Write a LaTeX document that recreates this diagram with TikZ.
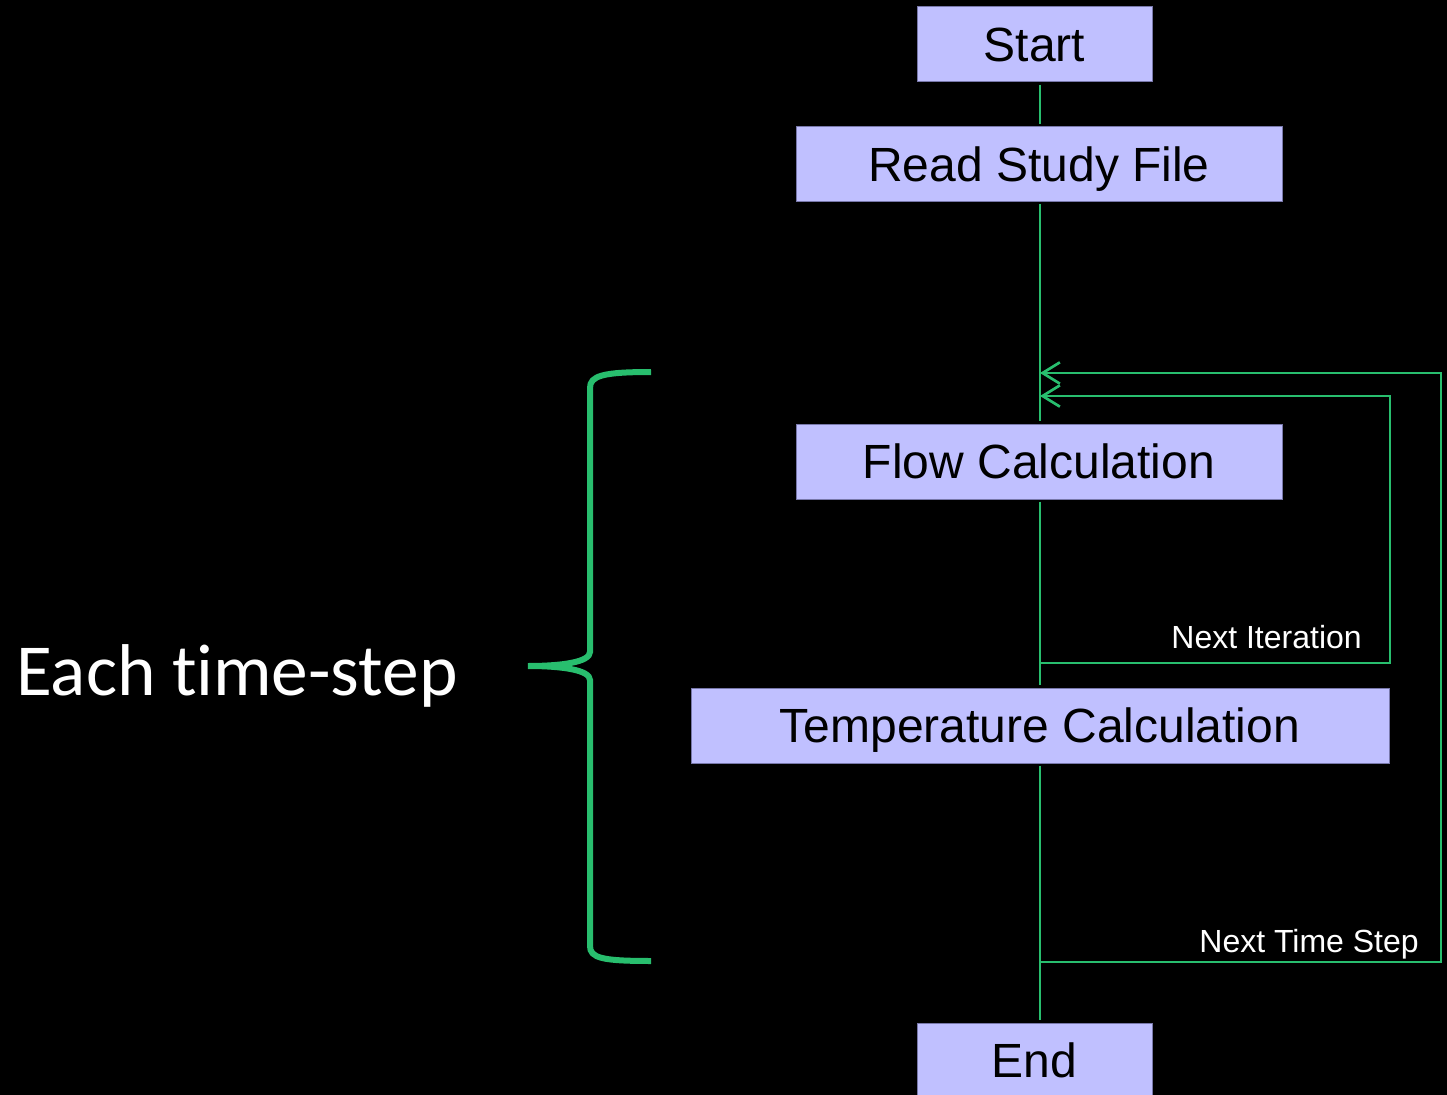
\documentclass[tikz,border=0pt]{standalone}
\usepackage{fontspec}
\setmainfont{Liberation Sans}
\newfontfamily\bracefont[Ligatures=NoCommon]{Carlito}
\usetikzlibrary{arrows.meta}
\definecolor{boxfill}{RGB}{192,192,255}
\definecolor{boxline}{RGB}{120,120,170}
\definecolor{flowgreen}{RGB}{40,190,110}
\tikzstyle{every node}=[inner sep=0pt]
\tikzstyle{stage}=[draw=boxline,line width=0.75pt,fill=boxfill,text=black,outer sep=2pt,
  minimum height=56.25pt,text height=25.8pt,text depth=0pt,font=\fontsize{36}{40}\selectfont]
\tikzstyle{link}=[draw=flowgreen,line width=2pt]
\tikzstyle{back}=[link,-{Straight Barb[length=13pt,width=16pt]}]
\tikzstyle{note}=[text=white,font=\fontsize{24}{28}\selectfont]

\begin{document}
\begin{tikzpicture}[x=0.75pt,y=-0.75pt]
    \fill[black] (0,0) rectangle (1447,1095);
    \useasboundingbox (0,0) rectangle (1447,1095);
    % boxes
    \node[stage,minimum width=176.25pt] (start) at (1034.5,44.5) {Start};
    \node[stage,minimum width=364.5pt] (read) at (1039,164) {Read Study File};
    \node[stage,minimum width=364.5pt] (flow) at (1039,461.5) {Flow Calculation};
    \node[stage,minimum width=523.5pt] (temp) at (1040,725.5) {Temperature Calculation};
    \node[stage,minimum width=176.25pt] (end) at (1034.5,1060.5) {End};
    % main line
    \draw[link] (start.south -| temp.north) -- (read.north -| temp.north);
    \draw[link] (read.south -| temp.north) -- (flow.north -| temp.north);
    \draw[link] (flow.south -| temp.north) -- (temp.north);
    \draw[link] (temp.south) -- (end.north -| temp.south);
    % loops
    \coordinate (iterOut) at (1040,663);
    \coordinate (iterTurn) at (1390,663);
    \coordinate (iterIn) at (1040,396);
    \coordinate (stepOut) at (1040,962);
    \coordinate (stepTurn) at (1441,962);
    \coordinate (stepIn) at (1040,373);
    \draw[back] (iterOut) -- (iterTurn) |- (iterIn);
    \draw[back] (stepOut) -- (stepTurn) |- (stepIn);
    \node[note,anchor=base east] (iterlabel) at (1362,648) {Next Iteration};
    \node[note,anchor=base east] (steplabel) at (1419,952) {Next Time Step};
    % brace
    \draw[flowgreen,line width=4.5pt]
        (651,372) .. controls (602,372) and (590,376) .. (590,388) -- (590,652)
        .. controls (590,662) and (562,666) .. (528,666)
        .. controls (562,666) and (590,670) .. (590,680) -- (590,946)
        .. controls (590,958) and (602,961) .. (651,961);
    \node[text=white,anchor=base west,font=\bracefont\fontsize{55}{60}\selectfont] (steptext) at (16,695) {Each time-step};
\end{tikzpicture}
\end{document}
